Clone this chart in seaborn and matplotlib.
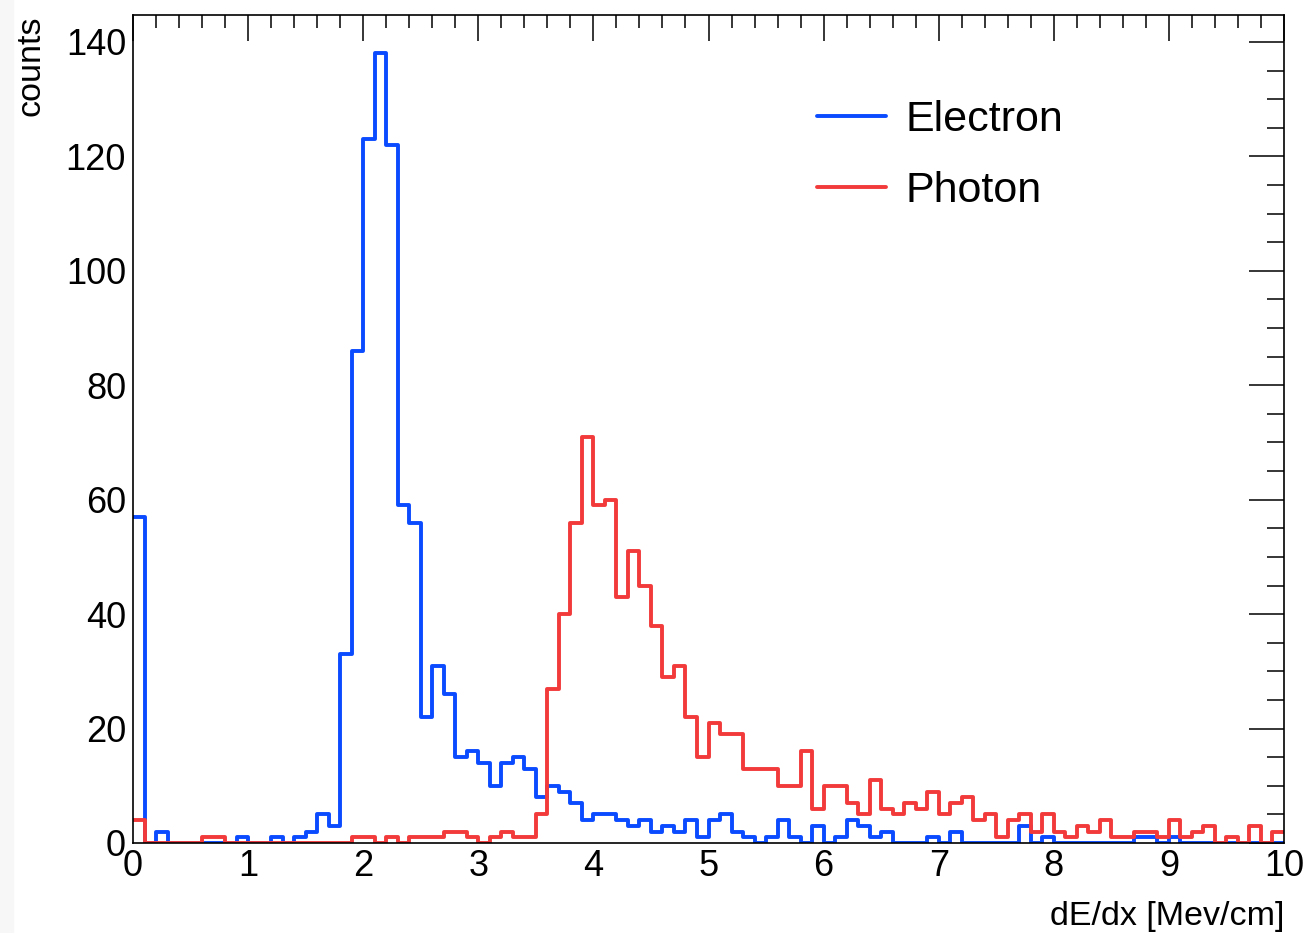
import numpy as np
import pandas as pd
import matplotlib
matplotlib.use("Agg")
import matplotlib.pyplot as plt
from matplotlib.ticker import MultipleLocator
from matplotlib.patches import Rectangle
import seaborn as sns

# ---- data: 100 bins, 0..10 in dE/dx ----
bin_edges = [round(i * 0.1, 1) for i in range(101)]
electron_counts = [
    57, 0, 2, 0, 0, 0, 0, 0, 0, 1,
    0, 0, 1, 0, 1, 2, 5, 3, 33, 86,
    123, 138, 122, 59, 56, 22, 31, 26, 15, 16,
    14, 10, 14, 15, 13, 8, 10, 9, 7, 4,
    5, 5, 4, 3, 4, 2, 3, 2, 4, 1,
    4, 5, 2, 1, 0, 1, 4, 1, 0, 3,
    0, 1, 4, 3, 1, 2, 0, 0, 0, 1,
    0, 2, 0, 0, 0, 0, 0, 3, 0, 1,
    0, 0, 0, 0, 0, 0, 0, 1, 1, 0,
    1, 0, 0, 0, 0, 0, 0, 0, 0, 0,
]
photon_counts = [
    4, 0, 0, 0, 0, 0, 1, 1, 0, 0,
    0, 0, 0, 0, 0, 0, 0, 0, 0, 1,
    1, 0, 1, 0, 1, 1, 1, 2, 2, 1,
    0, 1, 2, 1, 1, 5, 27, 40, 56, 71,
    59, 60, 43, 51, 45, 38, 29, 31, 22, 15,
    21, 19, 19, 13, 13, 13, 10, 10, 16, 6,
    10, 10, 7, 5, 11, 6, 5, 7, 6, 9,
    5, 7, 8, 4, 5, 1, 4, 5, 2, 5,
    2, 1, 3, 2, 4, 1, 1, 2, 2, 1,
    4, 1, 2, 3, 0, 1, 0, 3, 0, 2,
]
labels = ["Electron", "Photon"]
x_ticks = [0, 1, 2, 3, 4, 5, 6, 7, 8, 9, 10]
y_ticks = [0, 20, 40, 60, 80, 100, 120, 140]

edges_arr = np.array(bin_edges)
centers = 0.5 * (edges_arr[:-1] + edges_arr[1:])
df_e = pd.DataFrame({"x": centers, "w": np.array(electron_counts, dtype=float)})
df_p = pd.DataFrame({"x": centers, "w": np.array(photon_counts, dtype=float)})

sns.set_theme(style="white")
plt.rcParams["font.family"] = ["Liberation Sans", "DejaVu Sans"]
plt.rcParams["text.color"] = "black"
plt.rcParams["axes.labelcolor"] = "black"

W, H = 1305, 933
fig = plt.figure(figsize=(W / 100, H / 100), dpi=100)
fig.patches.append(Rectangle((0, 0), 13 / W, 1, transform=fig.transFigure,
                             color="#f7f7f7", zorder=-10))
ax = fig.add_axes([133 / W, 1 - 843 / H, (1284 - 133) / W, (843 - 15) / H])

blue = "#0a4bff"
red = "#f23a3a"
lw = 2.8
sns.histplot(data=df_e, x="x", weights="w", bins=bin_edges, element="step",
             fill=False, color=blue, linewidth=lw, ax=ax, label=labels[0])
sns.histplot(data=df_p, x="x", weights="w", bins=bin_edges, element="step",
             fill=False, color=red, linewidth=lw, ax=ax, label=labels[1])

ax.set_xlim(0, 10)
ax.set_ylim(0, 144.7)
ax.set_xticks(x_ticks)
ax.set_xticklabels([str(t) for t in x_ticks])
ax.set_yticks(y_ticks)
ax.set_yticklabels([str(t) for t in y_ticks])
ax.xaxis.set_minor_locator(MultipleLocator(0.2))
ax.yaxis.set_minor_locator(MultipleLocator(5))

for s in ax.spines.values():
    s.set_color("black")
    s.set_linewidth(1.2)

ax.tick_params(axis="both", which="both", direction="in", top=True, right=True,
               color="black", width=1.1, labelsize=26, labelcolor="black")
ax.tick_params(axis="x", which="major", length=18.5, pad=4)
ax.tick_params(axis="x", which="minor", length=9.5)
ax.tick_params(axis="y", which="major", length=25, pad=5)
ax.tick_params(axis="y", which="minor", length=12.5)

ax.set_xlabel("dE/dx [Mev/cm]", fontsize=24.5, loc="right", color="black")
ax.set_ylabel("counts", fontsize=24.5, loc="top", color="black")
ax.xaxis.set_label_coords(1.0, -0.0705)
ax.yaxis.set_label_coords(-0.0755, 1.0)

leg = ax.legend(loc="upper left", bbox_to_anchor=(0.5945, 0.897), frameon=False,
                fontsize=31, handlelength=1.6, handletextpad=0.45,
                labelspacing=0.72, borderpad=0, borderaxespad=0)
for h in leg.get_lines():
    h.set_linewidth(lw)
for t in leg.get_texts():
    t.set_color("black")

ax.grid(False)
fig.savefig("out.png", dpi=100)
